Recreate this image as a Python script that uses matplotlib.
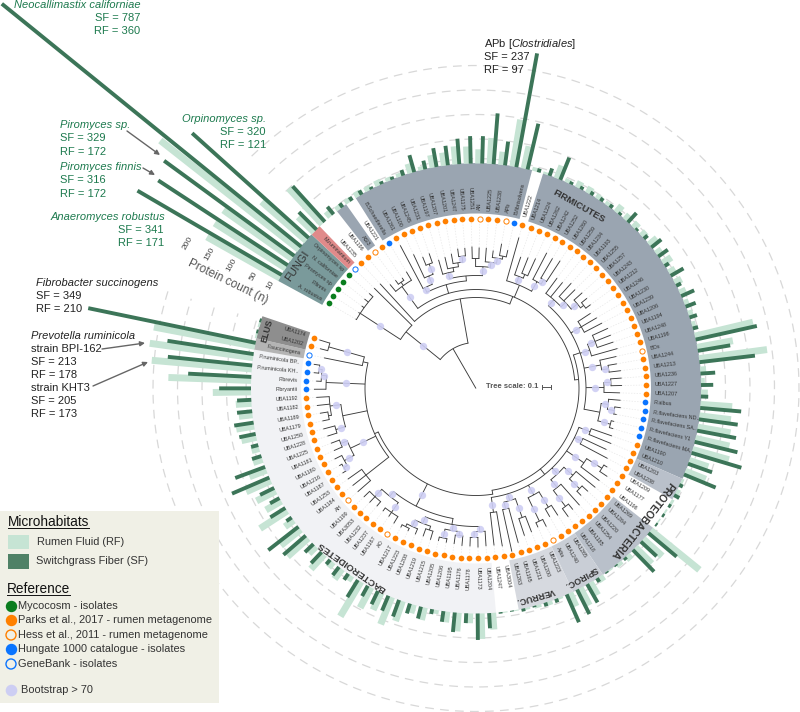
import numpy as np
import matplotlib
matplotlib.use("Agg")
import matplotlib.pyplot as plt
from matplotlib.patches import Rectangle

plt.rcParams['font.family'] = ['Liberation Sans', 'DejaVu Sans']
plt.rcParams['mathtext.fontset'] = 'custom'
plt.rcParams['mathtext.rm'] = 'Liberation Sans'
plt.rcParams['mathtext.it'] = 'Liberation Sans:italic'

# leaves, clockwise from the fungi
leaf_names = [
    "A. robustus", "P.finnis", "Piromyces sp", "N. californiae", "Orpinomyces sp", "M.ruminantium",
    "UBA1235", "UBA1196", "ASI3", "UBA1221", "B.Schaedlerella",
    "UBA1261", "UBA1100", "UBA1245", "UBA1231", "UBA1197", "UBA1207", "UBA1201", "UBA1247", "UBA1175", "UBA1251",
    "AN", "UBA1225", "UBA1238", "APb", "B.fibrisolvens", "UBA1222",
    "UBA1214", "UBA1224", "UBA1262", "UBA1242", "UBA1252", "UBA1260", "UBA1259", "UBA1234", "UBA1193", "UBA1255",
    "UBA1257", "UBA1243", "UBA1212", "UBA1246", "UBA1230", "UBA1239", "UBA1206", "UBA1194", "UBA1248", "UBA1198",
    "BOx", "UBA1244", "UBA1213", "UBA1236", "UBA1227", "UBA1207", "R.albus", "R.flavefaciens ND..",
    "R.flavefaciens SA..", "R.flavefaciens Y1", "R.flavefaciens MA..", "UBA1190", "UBA1210", "UBA1203", "UBA1238",
    "UBA1209", "UBA1177", "UBA1196", "UBA1269", "UBA1264", "UBA1220", "UBA1254", "UBA1185", "UBA1218",
    "UBA1265", "UBA1240", "Adta", "UBA1223", "UBA1200", "UBA1211", "UBA1165", "UBA1263", "UBA3004", "UBA1247",
    "UBA1204", "UBA1173", "UBA1178", "UBA1176", "UBA1195", "UBA1206", "UBA1205", "UBA1215", "UBA1219", "UBA1208",
    "UBA1223", "UBA1217", "AO", "UBA1167", "UBA1237", "UBA1232", "UBA3053", "UBA1199", "AH", "UBA1184", "UBA1253",
    "UBA1187", "UBA1216", "UBA1180", "UBA1181", "UBA1225", "UBA1228", "UBA1250", "UBA1179", "UBA1189", "UBA1182",
    "UBA1192", "P.bryantii", "P.brevis", "P.ruminicola KH..", "P.ruminicola BP..", "F.succinogens", "UBA1202", "UBA1174",
]

sf_counts = [
    341, 316, 329, 787, 320, 51, 98,
    20, 10, 9, 10, 5, 6, 6, 12,
    36, 18, 39, 40, 52, 56, 56, 104, 49, 236, 96,
    8, 16, 49, 6, 7, 8, 8,
    8, 6, 26, 5, 10, 26, 24, 10, 30, 11, 29, 22, 16, 11,
    128, 67, 114, 30, 25, 15,
    84, 80, 81, 90, 106, 52, 70,
    8, 12, 6, 5, 4,
    75, 44, 62, 6, 3, 3, 9,
    43, 56, 62, 8, 8, 3, 6,
    2, 3,
    31, 54, 20, 40, 22, 10, 25, 21, 36, 33, 30, 24,
    41, 15, 21, 12, 31, 24, 60, 78, 13,
    36, 22, 32, 83, 65, 20, 15, 34, 40, 31, 29,
    65, 129, 173, 178, 349, 4, 4,
]
rf_counts = [
    171, 172, 172, 360, 121, 45, 100,
    14, 10, 10, 12, 10, 12, 8, 8,
    20, 8, 26, 27, 37, 35, 29, 53, 27, 97, 47,
    8, 5, 28, 8, 14, 14, 10,
    8, 18, 14, 14, 13, 21, 14, 21, 15, 16, 14, 10, 10, 8,
    122, 74, 140, 12, 8, 14,
    65, 65, 68, 71, 77, 41, 45,
    5, 8, 6, 4, 3,
    128, 52, 47, 12, 8, 3, 12,
    30, 40, 30, 4, 8, 6, 4,
    2, 2,
    34, 52, 20, 38, 22, 8, 26, 18, 43, 60, 39, 47,
    82, 12, 25, 14, 40, 20, 56, 52, 22,
    66, 36, 44, 55, 37, 20, 16, 31, 37, 28, 32,
    78, 169, 205, 213, 210, 4, 4,
]

# which leaf came from where, anything not listed is Parks et al.
mycocosm_leaves = [0, 1, 2, 3, 4]
hess_leaves = [8, 21, 24, 47, 73, 93, 99]
hungate_leaves = [10, 25, 53, 54, 55, 56, 57, 113, 114, 115, 116]
genebank_leaves = [5, 117]

band_first = [0, 5, 8, 10, 27, 60, 65, 71, 74, 81, 117, 118]
band_last = [4, 5, 8, 25, 59, 61, 70, 73, 78, 116, 117, 119]
band_colors = ['#7a9a9b', '#e08a8a', '#9aa5b1', '#9aa5b1', '#9aa5b1', '#b9c0ca', '#b9c0ca',
               '#c9ced6', '#d6d9df', '#f1f2f5', '#b4b4b4', '#8e8e8e']

clade_names = ["FIRMICUTES", "PROTEOBACTERIA", "SPIROC.", "VERRUC.", "BACTEROIDETES", "ELUS", "FUNGI"]
clade_angles = [29.5, 128.5, 151, 164, 215, -74.6, -55.6]
clade_radii = [210, 212, 216, 216, 217.5, 217, 216]
clade_sizes = [6.8, 7.4, 6.4, 6.4, 6.8, 6.4, 8.0]

ring_counts = [10, 50, 100, 150, 200]
count_axis_label = "Protein count (n)"

# tip radius of every leaf in the tree
tip_radius = [
    139, 140, 141, 143, 143, 143, 142, 135, 135, 133, 136,
    162, 148, 142, 143, 134, 135, 137, 141, 141, 142, 141, 141, 139, 147, 142, 157,
    139, 141, 143, 153, 151, 153, 137, 137, 142, 140, 143, 143, 142,
    137, 140, 142, 145, 145, 145, 147, 144, 143, 146, 146, 146, 144,
    145, 146, 143, 142, 143, 144, 146, 144, 149, 153, 158, 154,
    155, 152, 150, 156, 155, 158, 151, 148, 155, 152,
    154, 155, 160, 167, 160, 158,
    158, 159, 158, 158, 157, 157, 157, 158, 157, 158, 158, 158, 158,
    155, 154, 154, 156, 156, 157, 157, 157, 158, 157, 158, 155, 155, 156, 158, 157, 158, 160, 160,
    162, 160, 163, 164, 155, 161, 164,
]

# tree: [arc radius, stem angle or None, bootstrap, children...], a plain int is a leaf
fungi = [138, -57, True, 0, 1, 2, 3, 4]
small_top = [126, -36, True, 7, [130, None, False, 8, 9], 10]
a = [113, -27, True, 11, [122, None, True, 12, [133, None, True, 13, 14]]]
b1 = [119, None, True, 15, [123, None, False, 16, [127, None, False, 17, [133, None, True, 18, 19]]]]
b2 = [122, None, True, [130, None, False, 20, 21], [127, None, True, 22, [132, None, True, 23, [135, None, False, 24, 25]]]]
top1 = [108, None, False, a, [113, None, False, b1, b2]]
t27 = [120, None, True, 27, [124, None, False, 28, 29]]
t30 = [123, None, True, 30, [128, None, True, 31, 32]]
top2 = [112, None, False, 26, t27, t30]
g33 = [118, None, True, 33, 34, [124, None, True, 35, 36, [132, None, True, 37, [136, None, False, 38, 39]]]]
g40 = [122, None, True, 40, 41, 42]
g43 = [120, None, True, [128, None, True, 43, 44, 45], 46]
g47 = [127, None, True, 47, [134, None, True, 48, 49]]
g50 = [128, None, True, [135, None, True, 50, 51], 52]
g53 = [126, None, False, [133, None, True, 53, [140, None, True, 54, 55]], [139, None, True, 56, 57]]
upper_right = [110, None, False, g33, g40, g43, g47, g50, g53]
g58 = [122, None, True, 58, 59]
g60 = [118, None, True, 60, 61]
g62 = [131, None, True, [149, None, True, 62, 63], 64]
g65 = [118, None, True, [130, None, True, 65, [144, None, True, 66, 67]], [128, None, True, 68, [148, None, True, 69, 70]]]
g71 = [121, None, True, [139, None, True, 71, 72], [147, None, True, 73, 74]]
g75 = [117, None, True, [137, None, True, 75, 76], [124, None, True, 77, 78]]
g79 = [125, None, True, 79, 80]
lower_right = [110, None, False, g58, g60, g62, g65, g71, g75, g79]
ba1 = [143, None, True, 81, [149, None, True, 82, 83]]
ba2 = [144, None, True, [148, None, True, 84, 85], [153, None, True, 86, 87]]
ba3 = [145, None, True, [149, None, False, 88, 89], [152, None, True, 90, [155, None, False, 91, 92]]]
bac_up = [138, None, False, ba1, ba2, ba3]
p1 = [138, None, True, [150, None, True, 93, 94, 95], [148, None, True, 96, 97, 98]]
p2 = [140, None, False, 99, 100, 101]
p3 = [139, None, True, [150, None, True, [154, None, True, 102, 103], 104], [146, None, True, 105, 106]]
p4 = [136, None, False, [146, None, True, 107, 108], [147, None, True, [150, None, False, 109, 110], 111, 112]]
p5 = [150, None, True, 113, [155, None, True, 114, [158, None, True, 115, 116]]]
elus = [116, 283.3, False, [153, None, True, 118, 119], 117]
h_node = [111, 246, False, p2, p3, p4, p5, elus]
m_node = [132, 207, True, bac_up, p1]
g_node = [107, 171, False, m_node, h_node]
d_node = [103, 85, False, upper_right, lower_right, g_node]
c_node = [99, 21.8, False, small_top, top1, top2, d_node]
tree_root = [46, -30, False, [90, -51, True, fungi, 5], [91, -10, False, 6, c_node]]

# page annotations
green_notes = [
    ("Neocallimastix californiae", 141, 5, 'right'), ("SF = 787", 140, 18, 'right'), ("RF = 360", 140, 31, 'right'),
    ("Orpinomyces sp.", 266, 119, 'right'), ("SF = 320", 266, 132, 'right'), ("RF = 121", 266, 145, 'right'),
    ("Piromyces sp.", 60, 125, 'left'), ("SF = 329", 60, 138, 'left'), ("RF = 172", 60, 152, 'left'),
    ("Piromyces finnis", 60, 167, 'left'), ("SF = 316", 60, 180, 'left'), ("RF = 172", 60, 194, 'left'),
    ("Anaeromyces robustus", 165, 217, 'right'), ("SF = 341", 164, 230, 'right'), ("RF = 171", 164, 243, 'right'),
]
black_notes = [
    ("Fibrobacter succinogens", 36, 283), ("SF = 349", 36, 296), ("RF = 210", 36, 309),
    ("Prevotella ruminicola", 31, 336), ("strain BPI-162", 31, 349), ("SF = 213", 31, 362), ("RF = 178", 31, 375),
    ("strain KHT3", 31, 388), ("SF = 205", 31, 401), ("RF = 173", 31, 414),
    ("APb [$\\mathit{Clostridiales}$]", 484, 44), ("SF = 237", 484, 57), ("RF = 97", 484, 70),
]
species_lines = ["Neocallimastix californiae", "Orpinomyces sp.", "Piromyces sp.", "Piromyces finnis",
                 "Anaeromyces robustus", "Fibrobacter succinogens", "Prevotella ruminicola"]
arrow_starts = [(127, 131), (143, 168), (102, 349), (93, 386)]
arrow_ends = [(160, 155), (155, 175), (145, 343), (148, 362)]

source_labels = ["Mycocosm - isolates", "Parks et al., 2017 - rumen metagenome", "Hess et al., 2011 - rumen metagenome",
                 "Hungate 1000 catalogue - isolates", "GeneBank - isolates"]

LIGHT = '#c6e4d4'
DARK = '#3c7558'
ORANGE = '#ff8000'
BLUE = '#0a74ff'
MYCO = '#0a7d1e'
BOOT = '#cdcef3'

W, H = 800, 712
CX, CY = 476, 388.5      # centre of the circle in pixels
R_PAGE = 640             # polar axes radius in pixels
BASE = 225               # where count 0 sits
PX_PER_COUNT = 0.49
ANGLE_START = -60
ANGLE_STEP = 2.918


def rad(px):
    # pixel radius -> value on the count axis
    return (px - BASE) / PX_PER_COUNT


def leaf_angle(i):
    return ANGLE_START + ANGLE_STEP * i


def node_pos(n):
    if isinstance(n, int):
        return leaf_angle(n)
    if n[1] is not None:
        return n[1]
    return (node_pos(n[3]) + node_pos(n[-1])) / 2


fig = plt.figure(figsize=(W / 100, H / 100), dpi=100)
ax = fig.add_axes([(CX - R_PAGE) / W, (H - CY - R_PAGE) / H, 2 * R_PAGE / W, 2 * R_PAGE / H], projection='polar')
ax.set_theta_zero_location('N')
ax.set_theta_direction(-1)
ax.set_ylim(rad(0), rad(R_PAGE))
ax.set_axis_off()

angles = np.array([leaf_angle(i) for i in range(len(leaf_names))])
thetas = np.radians(angles)

# rings stop at the gap next to the fungi
ring_theta = np.radians(np.linspace(-44, 287.5, 400))
for c in ring_counts:
    ax.plot(ring_theta, np.full(400, c), color='#d8d8d8', lw=0.9, dashes=(7, 5), zorder=1)

for first, last, col in zip(band_first, band_last, band_colors):
    mid = np.radians((leaf_angle(first) + leaf_angle(last)) / 2)
    width = np.radians((last - first + 1) * ANGLE_STEP)
    ax.bar(mid, rad(225.5) - rad(175), width=width, bottom=rad(175), color=col, linewidth=0, zorder=2)

# the pair sits side by side, the pale one a little anticlockwise
ax.vlines(thetas - np.radians(0.6), 0, rf_counts, colors=LIGHT, linewidths=5.0, zorder=3)
ax.vlines(thetas + np.radians(0.3), 0, sf_counts, colors=DARK, linewidths=2.8, zorder=4)

# leaf labels
for th, name in zip(angles, leaf_names):
    if 0 <= th < 180:
        rot, ha = 90 - th, 'left'
    else:
        rot, ha = 270 - th, 'right'
    ax.text(np.radians(th), rad(178.5), name, rotation=rot, ha=ha, va='center', rotation_mode='anchor',
            fontsize=3.9, color='#333333', zorder=6)

for name, th, r, size in zip(clade_names, clade_angles, clade_radii, clade_sizes):
    ax.text(np.radians(th), rad(r), name, rotation=-th, ha='center', va='center', rotation_mode='anchor',
            fontsize=size, fontweight='bold' if name != "FUNGI" else 'normal', color='#333333', zorder=6)


def draw_stem(th, r0, r1):
    ax.plot([np.radians(th)] * 2, [rad(r0), rad(r1)], color='#3a3a3a', lw=0.65, zorder=5, solid_capstyle='butt')


def draw_node(n, parent_r):
    if isinstance(n, int):
        draw_stem(leaf_angle(n), parent_r, tip_radius[n])
        return
    r, boot = n[0], n[2]
    kids = n[3:]
    p = node_pos(n)
    if parent_r is not None:
        draw_stem(p, parent_r, r)
        if boot:
            ax.scatter(np.radians(p), rad((parent_r + r) / 2), s=28, color=BOOT, alpha=0.9, linewidths=0, zorder=5.5)
    else:
        draw_stem(p, 0, r)
    spots = [node_pos(k) for k in kids] + [p]
    arc = np.radians(np.linspace(min(spots), max(spots), 60))
    ax.plot(arc, np.full(60, rad(r)), color='#3a3a3a', lw=0.65, zorder=5)
    for k in kids:
        draw_node(k, r)


draw_node(tree_root, None)

# faint guides from the tips out to the dots
ax.vlines(thetas, [rad(t) for t in tip_radius], rad(166), colors='#e8e8e8', linewidths=0.5,
          linestyles=(0, (2, 2)), zorder=1)

# source dots
dot_r = np.full(len(leaf_names), rad(170))
parks = [i for i in range(len(leaf_names)) if i not in mycocosm_leaves + hess_leaves + hungate_leaves + genebank_leaves]
ax.scatter(thetas[parks], dot_r[parks], s=17, color=ORANGE, linewidths=0, zorder=6)
ax.scatter(thetas[mycocosm_leaves], dot_r[mycocosm_leaves], s=17, color=MYCO, linewidths=0, zorder=6)
ax.scatter(thetas[hungate_leaves], dot_r[hungate_leaves], s=17, color=BLUE, linewidths=0, zorder=6)
ax.scatter(thetas[hess_leaves], dot_r[hess_leaves], s=14, facecolors='white', edgecolors=ORANGE, linewidths=0.7, zorder=6)
ax.scatter(thetas[genebank_leaves], dot_r[genebank_leaves], s=14, facecolors='white', edgecolors=BLUE, linewidths=0.7, zorder=6)

# count axis labels sit in the gap
for c in ring_counts:
    ax.text(np.radians(-63.2), c, str(c), rotation=60, ha='center', va='center', rotation_mode='anchor',
            fontsize=6, color='#444444', zorder=6)

# page layer in pixel coordinates
page = fig.add_axes([0, 0, 1, 1], zorder=10)
page.set_xlim(0, W)
page.set_ylim(H, 0)
page.patch.set_alpha(0)
page.axis('off')

for text, x, y, ha in green_notes:
    page.text(x, y, text, ha=ha, va='center', fontsize=8, color='#1d7a4e',
              style='italic' if text in species_lines else 'normal')
for text, x, y in black_notes:
    page.text(x, y, text, ha='left', va='center', fontsize=8, color='#222222',
              style='italic' if text in species_lines else 'normal')
for s, e in zip(arrow_starts, arrow_ends):
    page.annotate("", xy=e, xytext=s, arrowprops=dict(arrowstyle='-|>', color='#666666', lw=1.0, mutation_scale=7, shrinkA=0, shrinkB=0))

page.text(228, 282, count_axis_label, rotation=-26, ha='center', va='center', rotation_mode='anchor',
          fontsize=8.5, color='#555555')

# tree scale
page.text(486, 387, "Tree scale: 0.1", ha='left', va='center', fontsize=5.5, color='#555555', fontweight='bold')
page.plot([542, 551], [387, 387], color='#555555', lw=0.7)
page.plot([542, 542], [385, 389], color='#555555', lw=0.7)
page.plot([551, 551], [385, 389], color='#555555', lw=0.7)

# legend box
page.add_patch(Rectangle((0, 511), 219, 192, facecolor='#f0f0e6', edgecolor='none'))
page.text(8, 522, "Microhabitats", ha='left', va='center', fontsize=9.8, color='#111111')
page.plot([8, 89], [528, 528], color='#111111', lw=0.7)
page.add_patch(Rectangle((8, 535), 21, 14, facecolor=LIGHT, edgecolor='none'))
page.text(37, 542, "Rumen Fluid (RF)", ha='left', va='center', fontsize=7.9, color='#333333')
page.add_patch(Rectangle((8, 554), 21, 15, facecolor='#4f8166', edgecolor='none'))
page.text(36, 561, "Switchgrass Fiber (SF)", ha='left', va='center', fontsize=7.9, color='#333333')
page.text(7, 589, "Reference", ha='left', va='center', fontsize=9.8, color='#111111')
page.plot([7, 70], [595, 595], color='#111111', lw=0.7)

legend_y = [606, 620, 635, 649, 664]
legend_face = [MYCO, ORANGE, 'none', BLUE, 'none']
legend_edge = [MYCO, ORANGE, ORANGE, BLUE, BLUE]
for y, label, fc, ec in zip(legend_y, source_labels, legend_face, legend_edge):
    page.scatter([11], [y], s=52, facecolors=fc, edgecolors=ec, linewidths=1.0, zorder=3)
    page.text(18, y, label, ha='left', va='center', fontsize=7.9, color='#333333')
page.scatter([11], [690], s=70, color=BOOT, linewidths=0, zorder=3)
page.text(21, 690, "Bootstrap > 70", ha='left', va='center', fontsize=7.9, color='#333333')

fig.savefig("out.png", dpi=100)
